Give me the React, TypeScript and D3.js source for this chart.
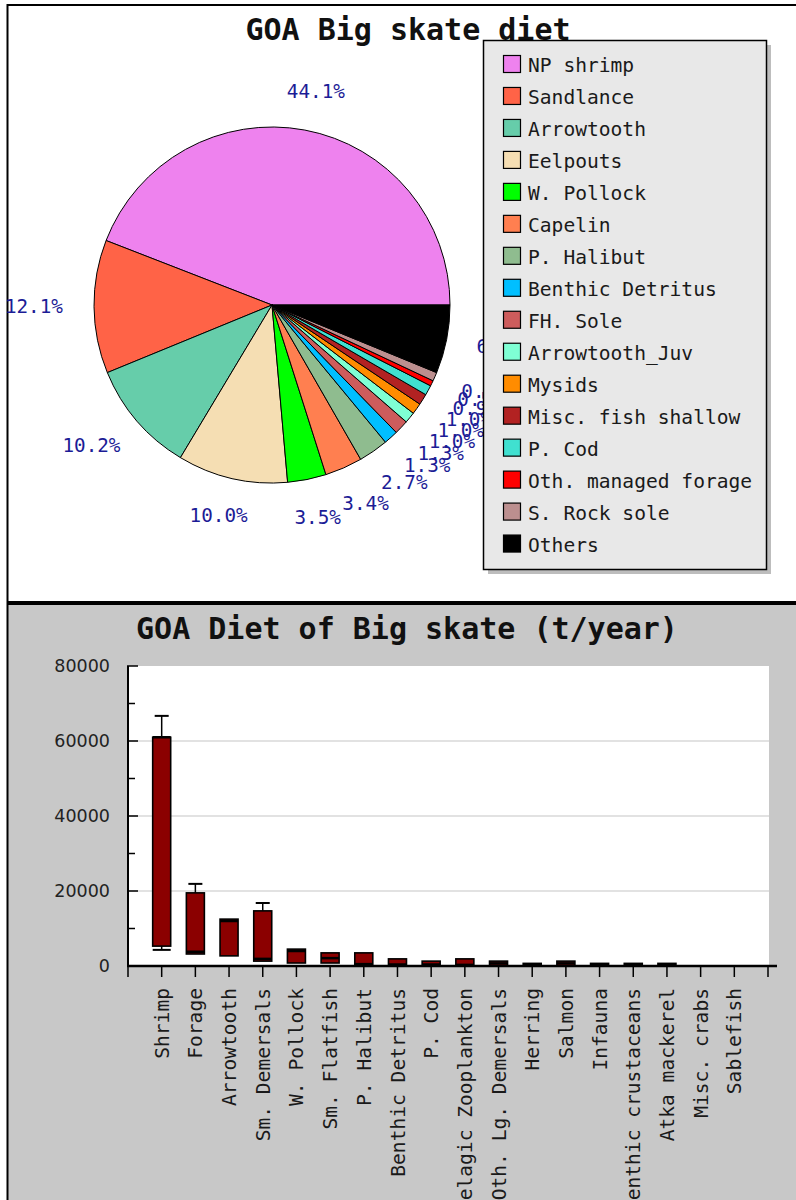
import React from "react";
import * as d3 from "d3";

const pieLabels = [
  "NP shrimp", "Sandlance", "Arrowtooth", "Eelpouts", "W. Pollock", "Capelin",
  "P. Halibut", "Benthic Detritus", "FH. Sole", "Arrowtooth_Juv", "Mysids",
  "Misc. fish shallow", "P. Cod", "Oth. managed forage", "S. Rock sole", "Others",
];
const pieValues = [44.1, 12.1, 10.2, 10.0, 3.5, 3.4, 2.7, 1.3, 1.3, 1.0, 1.0, 1.0, 0.9, 0.5, 0.8, 6.2];
const pieColors = [
  "#ee82ee", "#ff6347", "#66cdaa", "#f5deb3", "#00ff00", "#ff7f50", "#8fbc8f", "#00bfff",
  "#cd5c5c", "#7fffd4", "#ff8c00", "#b22222", "#40e0d0", "#ff0000", "#bc8f8f", "#000000",
];

const barCategories = [
  "Shrimp", "Forage", "Arrowtooth", "Sm. Demersals", "W. Pollock", "Sm. Flatfish",
  "P. Halibut", "Benthic Detritus", "P. Cod", "Pelagic Zooplankton", "Oth. Lg. Demersals",
  "Herring", "Salmon", "Infauna", "Benthic crustaceans", "Atka mackerel", "Misc. crabs", "Sablefish",
];
const boxLow = [5300, 3200, 2700, 1300, 800, 800, 200, 250, 250, 100, 100, 50, 100, 50, 50, 50, 0, 0];
const boxHigh = [61000, 19500, 12500, 14700, 4500, 3500, 3500, 1900, 1300, 1900, 1300, 700, 1300, 700, 700, 700, 0, 0];
const whiskerMin = [4300, 3200, 2700, 1300, 800, 800, 200, 250, 250, 100, 100, 50, 100, 50, 50, 50, 0, 0];
const whiskerMax = [66700, 21900, 12500, 16800, 4500, 3500, 3500, 1900, 1300, 1900, 1300, 700, 1300, 700, 700, 700, 0, 0];
const medianVals = [61000, 3800, 12000, 1900, 4000, 2100, 500, 400, 400, 300, 700, 400, 700, 400, 400, 400, 0, 0];
const yTicks = [0, 20000, 40000, 60000, 80000];

const MONO = "'DejaVu Sans Mono', 'Liberation Mono', monospace";
const SANS = "'DejaVu Sans', 'Liberation Sans', sans-serif";

export default function App() {
  // ---------- pie ----------
  const cx = 272, cy = 305, r = 178, R = 209;
  const labFs = 19.3;
  const pie = d3.pie<number>().sort(null).startAngle(Math.PI / 2).endAngle(Math.PI / 2 - 2 * Math.PI);
  const arcs = pie(pieValues);
  const arcGen = d3.arc<d3.PieArcDatum<number>>().innerRadius(0).outerRadius(r);

  const pieLabelEls = arcs.map((a, i) => {
    const mid = (a.startAngle + a.endAngle) / 2;
    const m = Math.PI / 2 - mid; // math angle
    const xt = cx + R * Math.cos(m);
    const yt = cy - R * Math.sin(m);
    const txt = pieValues[i].toFixed(1) + "%";
    const w = txt.length * labFs * 0.602;
    const h = 16;
    const x = xt - (w * (1 - Math.cos(m))) / 2;
    const top = yt - (h * (1 + Math.sin(m))) / 2;
    return (
      <text key={"pl" + i} x={x} y={top + 14} fontFamily={MONO} fontSize={labFs} fill="#1c1c96">
        {txt}
      </text>
    );
  });

  // ---------- bars ----------
  const x = d3.scaleLinear().domain([0, 19]).range([128, 768]);
  const y = d3.scaleLinear().domain([0, 80000]).range([966, 666]);
  const bw = 18;
  const capW = 14;
  const minorTicks = d3.range(10000, 80000, 20000);

  return (
    <svg width={796} height={1200} style={{ position: "absolute", left: 0, top: 0 }}>
      {/* top panel */}
      <rect x={0} y={0} width={796} height={1200} fill="#ffffff" />
      <rect x={8} y={605} width={788} height={595} fill="#c8c8c8" />
      <line x1={7} y1={5} x2={796} y2={5} stroke="#000" strokeWidth={2} />
      <line x1={7.5} y1={4} x2={7.5} y2={1200} stroke="#000" strokeWidth={2} />
      <rect x={7} y={601} width={789} height={4} fill="#000" />

      {/* pie */}
      <g transform={`translate(${cx},${cy})`}>
        {arcs.map((a, i) => (
          <path key={"s" + i} d={arcGen(a) || ""} fill={pieColors[i]} stroke="#000" strokeWidth={1} />
        ))}
      </g>
      {pieLabelEls}

      <text x={408} y={40} textAnchor="middle" fontFamily={MONO} fontWeight="bold" fontSize={30} fill="#111">
        GOA Big skate diet
      </text>

      {/* legend */}
      <rect x={488} y={45} width={283} height={529} fill="#bdbdbd" />
      <rect x={483.5} y={40.5} width={283} height={529} fill="#e8e8e8" stroke="#000" strokeWidth={1.5} />
      {pieLabels.map((lab, i) => {
        const c = 64 + i * 31.97;
        return (
          <g key={"lg" + i}>
            <rect x={503.5} y={c - 8.5} width={17} height={17} fill={pieColors[i]} stroke="#000" strokeWidth={1.2} />
            <text x={528} y={c + 8} fontFamily={MONO} fontSize={19.6} fill="#1a1a1a">
              {lab}
            </text>
          </g>
        );
      })}

      {/* bar chart */}
      <text x={407} y={639} textAnchor="middle" fontFamily={MONO} fontWeight="bold" fontSize={30} fill="#111">
        GOA Diet of Big skate (t/year)
      </text>
      <rect x={128} y={666} width={641} height={300} fill="#ffffff" />
      {yTicks.filter((t) => t > 0 && t < 80000).map((t) => (
        <line key={"g" + t} x1={128} x2={769} y1={y(t)} y2={y(t)} stroke="#e2e2e2" strokeWidth={2} />
      ))}

      {barCategories.map((c, i) => {
        const xc = x(i + 1);
        const hi = y(boxHigh[i]);
        const lo = y(boxLow[i]);
        const wmax = y(whiskerMax[i]);
        const wmin = y(whiskerMin[i]);
        if (boxHigh[i] <= 0) return null;
        return (
          <g key={"b" + i}>
            {whiskerMax[i] > boxHigh[i] && (
              <line x1={xc} x2={xc} y1={wmax} y2={hi} stroke="#000" strokeWidth={1.5} />
            )}
            {whiskerMin[i] < boxLow[i] && (
              <line x1={xc} x2={xc} y1={lo} y2={wmin} stroke="#000" strokeWidth={1.5} />
            )}
            <rect x={xc - bw / 2} y={hi} width={bw} height={Math.max(lo - hi, 0.5)} fill="#8b0000" stroke="#000" strokeWidth={1.6} />
            <line x1={xc - bw / 2} x2={xc + bw / 2} y1={y(medianVals[i])} y2={y(medianVals[i])} stroke="#000" strokeWidth={2.5} />
            {whiskerMax[i] > boxHigh[i] && (
              <line x1={xc - capW / 2} x2={xc + capW / 2} y1={wmax} y2={wmax} stroke="#000" strokeWidth={2} />
            )}
            {whiskerMin[i] < boxLow[i] && (
              <line x1={xc - capW / 2 - 2} x2={xc + capW / 2 + 2} y1={wmin} y2={wmin} stroke="#000" strokeWidth={2} />
            )}
          </g>
        );
      })}

      {/* y axis */}
      <line x1={128} x2={128} y1={666} y2={967} stroke="#000" strokeWidth={2} />
      {yTicks.map((t) => (
        <g key={"yt" + t}>
          <line x1={127} x2={138} y1={y(t)} y2={y(t)} stroke="#000" strokeWidth={1.5} />
          <text x={110} y={y(t)} dy="0.36em" textAnchor="end" fontFamily={SANS} fontSize={17.5} fill="#222">
            {t}
          </text>
        </g>
      ))}
      {minorTicks.map((t) => (
        <line key={"mt" + t} x1={128} x2={135} y1={y(t)} y2={y(t)} stroke="#000" strokeWidth={1.5} />
      ))}

      {/* x axis */}
      <line x1={127} x2={777} y1={966} y2={966} stroke="#000" strokeWidth={2.5} />
      {d3.range(0, 20).map((k) => (
        <line key={"xt" + k} x1={x(k)} x2={x(k)} y1={966} y2={977} stroke="#000" strokeWidth={1.5} />
      ))}
      {barCategories.map((c, i) => (
        <text
          key={"xl" + i}
          transform={`translate(${x(i + 1)},988) rotate(-90)`}
          dy="0.36em"
          textAnchor="end"
          fontFamily={MONO}
          fontSize={19.6}
          fill="#1a1a1a"
        >
          {c}
        </text>
      ))}
    </svg>
  );
}
